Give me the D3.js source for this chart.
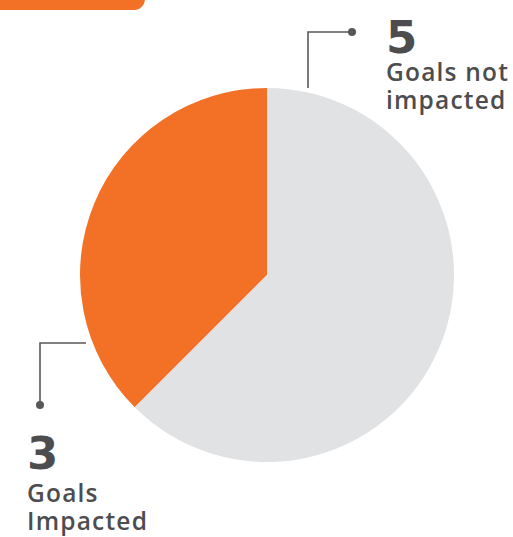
<!DOCTYPE html>
<html>
<head>
<meta charset="utf-8">
<script src="https://cdn.jsdelivr.net/npm/d3@7"></script>
<style>
  html, body { margin: 0; padding: 0; background: #fff; }
  svg { display: block; }
  text { fill: #4d4d4f; }
  .num { font-family: "DejaVu Sans", sans-serif; font-weight: 700; }
  .lbl { font-family: "Open Sans", sans-serif; font-weight: 600; letter-spacing: 1.2px; }
</style>
</head>
<body>
<svg id="chart" width="513" height="537"></svg>
<script>
// Goal impact breakdown
const categories = ["Goals Impacted", "Goals not impacted"];
const values = [3, 5];
const colors = ["#f37027", "#e1e2e3"];

const svg = d3.select("#chart");
const cx = 267, cy = 275, radius = 187;

// Orange header tab in the top-left corner
svg.append("rect")
  .attr("x", -20).attr("y", -20)
  .attr("width", 165).attr("height", 30)
  .attr("rx", 11).attr("ry", 11)
  .attr("fill", "#f37027");

const pie = d3.pie().sort(null).value(d => d.value)
  .startAngle(-3 * Math.PI / 4).endAngle(2 * Math.PI - 3 * Math.PI / 4);
const data = categories.map((c, i) => ({ name: c, value: values[i], color: colors[i] }));
const arcs = pie(data);
const arc = d3.arc().innerRadius(0).outerRadius(radius);

const g = svg.append("g").attr("transform", `translate(${cx},${cy})`);
g.selectAll("path").data(arcs).join("path")
  .attr("d", arc)
  .attr("fill", d => d.data.color);

// Callout leader lines
const lineColor = "#58585a";
const lines = svg.append("g").attr("stroke", lineColor).attr("stroke-width", 1.6).attr("fill", "none");
lines.append("path").attr("d", "M308,88 V32 H352");
svg.append("circle").attr("cx", 352).attr("cy", 32).attr("r", 4).attr("fill", lineColor);
lines.append("path").attr("d", "M86,343 H40 V405");
svg.append("circle").attr("cx", 40).attr("cy", 405).attr("r", 4).attr("fill", lineColor);

// Callout labels: big value followed by a two-line caption
function label(x, yNum, num, linesTxt, yFirst) {
  const t = svg.append("text");
  t.append("tspan").attr("class", "num").attr("x", x).attr("y", yNum)
    .attr("font-size", 45).text(num);
  linesTxt.forEach((s, i) => {
    t.append("tspan").attr("class", "lbl").attr("x", x).attr("y", yFirst + i * 28)
      .attr("font-size", 24.5).text(s);
  });
}
label(386, 53, values[1], ["Goals not", "impacted"], 81);
label(27, 469, values[0], ["Goals", "Impacted"], 502);
</script>
</body>
</html>
